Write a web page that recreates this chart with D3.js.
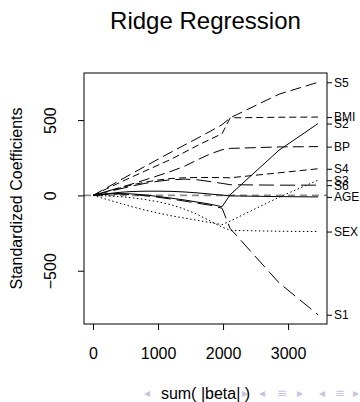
<!DOCTYPE html>
<html>
<head>
<meta charset="utf-8">
<script src="https://cdn.jsdelivr.net/npm/d3@7"></script>
<style>
  body { margin: 0; background: #fff; }
  svg { display: block; font-family: "Liberation Sans", Arial, sans-serif; }
</style>
</head>
<body>
<div class="ridge_container"></div>
<script>
// sum(|beta|) along the ridge path
const sumBeta = [0, 200, 400, 600, 800, 1000, 1200, 1400, 1600, 1800, 1985, 2110, 2860, 3460]

// standardized coefficients, one array per variable
const age = [0, 10, 20, 26, 28, 28, 27, 23, 17, 9, 2, -3, -8, -10]
const sex = [0, -3, -8, -16, -27, -42, -62, -90, -125, -170, -210, -232, -238, -240]
const bmi = [0, 42, 83, 123, 162, 201, 240, 285, 330, 372, 410, 515, 519, 520]
const bp = [0, 25, 50, 76, 103, 131, 160, 192, 235, 275, 303, 312, 322, 324]
const s1 = [0, 6, 9, 6, -2, -12, -24, -37, -51, -65, -85, -220, -580, -792]
const s2 = [0, 9, 13, 10, 3, -7, -18, -30, -44, -58, -75, 5, 300, 477]
const s3 = [0, -25, -50, -75, -97, -117, -135, -150, -165, -180, -194, -170, -12, 101]
const s4 = [0, 25, 48, 70, 88, 102, 112, 117, 119, 119, 118, 117, 150, 177]
const s5 = [0, 48, 97, 145, 193, 240, 287, 333, 378, 425, 470, 515, 672, 751]
const s6 = [0, 21, 42, 62, 80, 94, 104, 108, 104, 92, 80, 71, 68, 68]

const varNames = ['AGE', 'SEX', 'BMI', 'BP', 'S1', 'S2', 'S3', 'S4', 'S5', 'S6']
const varValues = [age, sex, bmi, bp, s1, s2, s3, s4, s5, s6]

const xTicks = [0, 1000, 2000, 3000]
const yTicks = [-500, 0, 500]

// R lty cycle: solid, dotted, dashed, longdash, twodash-ish
const dashes = ['none', '1.5,2.5', '7,4', '11,5', '15,6']

const series = varNames.map((name, i) => ({
    name: name,
    dash: dashes[i % 5],
    values: varValues[i].map((v, j) => ({ x: sumBeta[j], y: v }))
}))

const svg_width = 360
const svg_height = 402
const margin = { top: 73, bottom: 78, right: 33, left: 84 }
const chart_width = svg_width - margin.left - margin.right
const chart_height = svg_height - margin.top - margin.bottom

const svg = d3.select('.ridge_container').append('svg')
    .attr('width', svg_width).attr('height', svg_height)

const g = svg.append('g').attr('transform', `translate(${margin.left},${margin.top})`)

// R style 4% padding
function pad(ext) {
    const d = (ext[1] - ext[0]) * 0.04
    return [ext[0] - d, ext[1] + d]
}
const allY = varValues.flat()
const xScale = d3.scaleLinear().domain(pad(d3.extent(sumBeta))).range([0, chart_width])
const yScale = d3.scaleLinear().domain(pad(d3.extent(allY))).range([chart_height, 0])

// zero line
g.append('line')
    .attr('x1', 0).attr('x2', chart_width)
    .attr('y1', yScale(0)).attr('y2', yScale(0))
    .style('stroke', '#8c8c8c').style('stroke-width', 1.6)
    .style('stroke-dasharray', '7,5')

const lineGen = d3.line().x(d => xScale(d.x)).y(d => yScale(d.y))

g.append('g').attr('class', 'paths')
    .selectAll('path').data(series)
    .enter().append('path')
    .attr('d', d => lineGen(d.values))
    .style('fill', 'none')
    .style('stroke', '#000')
    .style('stroke-width', 1)
    .style('stroke-dasharray', d => d.dash)

// box
g.append('rect')
    .attr('width', chart_width).attr('height', chart_height)
    .style('fill', 'none').style('stroke', '#000').style('stroke-width', 1)

// axes
const xAxis = d3.axisBottom(xScale).tickValues(xTicks).tickSize(6).tickPadding(18).tickSizeOuter(0)
    .tickFormat(d3.format('d'))
const xAxisDraw = g.append('g').attr('transform', `translate(0,${chart_height})`).call(xAxis)
xAxisDraw.select('.domain').remove()
xAxisDraw.selectAll('text').style('font-size', '16px').style('font-family', 'inherit')

const yAxis = d3.axisLeft(yScale).tickValues(yTicks).tickSize(6).tickSizeOuter(0)
    .tickFormat(d => d < 0 ? '\u2212' + Math.abs(d) : d)
const yAxisDraw = g.append('g').call(yAxis)
yAxisDraw.select('.domain').remove()
yAxisDraw.selectAll('text')
    .attr('x', 0).attr('dy', 0)
    .attr('transform', 'translate(-34,0) rotate(-90)')
    .style('text-anchor', 'middle')
    .style('dominant-baseline', 'central')
    .style('font-size', '16px').style('font-family', 'inherit')

// right-side variable labels at final coefficients
const lastVals = series.map(d => d.values[d.values.length - 1].y)
const rAxis = d3.axisRight(yScale).tickValues(lastVals).tickSize(5).tickPadding(2)
    .tickFormat((d, i) => varNames[i])
const rAxisDraw = g.append('g').attr('transform', `translate(${chart_width},0)`).call(rAxis)
rAxisDraw.select('.domain').remove()
rAxisDraw.selectAll('text').style('font-size', '12px').style('font-family', 'inherit')

// titles
svg.append('text')
    .attr('x', margin.left + chart_width / 2).attr('y', 29)
    .style('text-anchor', 'middle').style('font-size', '24px')
    .text('Ridge Regression')

svg.append('text')
    .attr('transform', `translate(16,${margin.top + chart_height / 2}) rotate(-90)`)
    .style('text-anchor', 'middle').style('dominant-baseline', 'central')
    .style('font-size', '16px')
    .text('Standardized Coefficients')

// beamer navigation symbols
const navSymbols = ['\u25C2', '\u25AB', '\u25B8', '\u25C2', '\u2261', '\u25B8', '\u25C2', '\u2261', '\u25B8']
const navX = [147, 214, 245, 262, 282, 300, 322, 340, 356]
svg.append('g').selectAll('text').data(navSymbols)
    .enter().append('text')
    .attr('x', (d, i) => navX[i]).attr('y', 393)
    .style('text-anchor', 'middle').style('dominant-baseline', 'central')
    .style('font-size', '12px').style('fill', '#c4c4e2')
    .style('font-family', 'DejaVu Sans')
    .text(d => d)

svg.append('text')
    .attr('x', margin.left + chart_width / 2).attr('y', 393)
    .style('text-anchor', 'middle').style('dominant-baseline', 'central')
    .style('font-size', '16px')
    .text('sum( |beta| )')
</script>
</body>
</html>
